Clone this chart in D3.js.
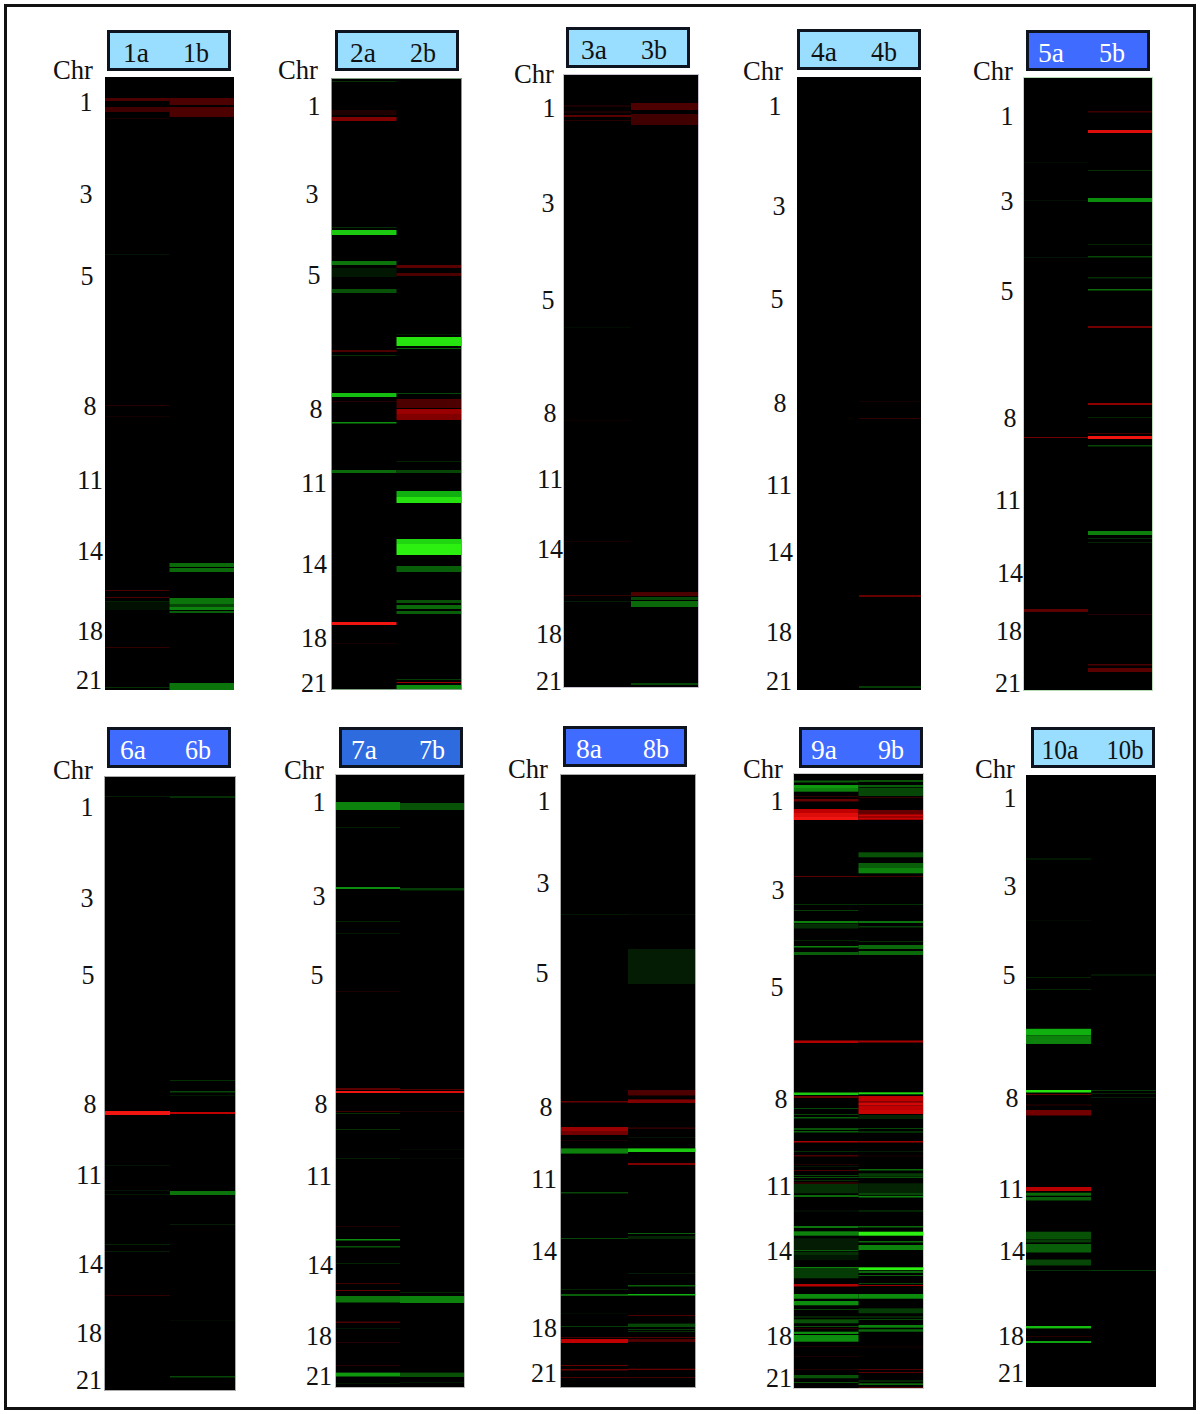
<!DOCTYPE html>
<html><head><meta charset="utf-8">
<script src="https://cdnjs.cloudflare.com/ajax/libs/d3/7.8.5/d3.min.js"></script>
<style>html,body{margin:0;padding:0;background:#fff}svg{display:block}text{font-family:"Liberation Serif",serif}</style>
</head><body><svg id="c" width="1200" height="1414"><defs><filter id="soft" x="-2%" y="-2%" width="104%" height="104%" color-interpolation-filters="sRGB"><feGaussianBlur stdDeviation="0.3 0.45"/></filter></defs></svg>
<script>
// Every band: [start, end, log-ratio]; position in track units from chromosome 1 end; + red (gain), - green (loss)
const p1a=[[21,24,.3],[30,35,.25],[41,42,.1],[177,178,-.08],[328,329,.15],[339,340,.08],[513,514,.3],[520,521,.3],[524,525,-.15],[525,533,-.07],[570,571,.2],[610,611,-.2]];
const p1b=[[21,28,.3],[30,40,.3],[486,490,-.45],[491,495,-.45],[521,527,-.5],[527,530,-.3],[530,533,-.55],[534,536,-.4],[606,613,-.5]];
const p2a=[[2,3,-.2],[31,36,.12],[38,42,.5],[148,149,-.2],[151,156,-.85],[182,186,-.5],[189,198,-.1],[210,214,-.35],[271,273,.3],[276,277,-.2],[314,318,-.8],[322,323,.15],[343,344.5,-.6],[391,394,-.45],[543,546,1],[564,565,.08]];
const p2b=[[186,189,.35],[194,197,.3],[255,256,-.1],[258,267,-.95],[269,270,-.4],[314,315,-.3],[320,329,.3],[330,335,.6],[335,341,.5],[382,383,-.15],[391,394,-.3],[412,418,-.75],[418,424,-.95],[460,465,-.9],[465,476,-1],[487,493,-.4],[521,524,-.35],[526,530,-.45],[532,535,-.4],[600,601,-.25],[603,604,.6],[606,610,-.6]];
const p3a=[[30,32,.1],[36,38,.1],[40,42,.35],[45,46,.15],[252,253,-.05],[345,346,.05],[466,467,.08],[520,521,.2],[526,527,-.12]];
const p3b=[[28,35,.3],[39,44,.25],[44,50,.25],[517,521,.3],[522,525,-.3],[526,532,-.45],[608,610,-.3]];
const p4a=[];
const p4b=[[324,325,.08],[341,342,.2],[518,520,.4],[609,611,-.25]];
const p5a=[[84,85,-.05],[122,123,-.06],[179,180,-.08],[359,360,.45],[531,534,.35]];
const p5b=[[33,34.5,.25],[52,55,.9],[92,93,-.2],[120,124,-.6],[166,167,-.15],[178,179.5,-.3],[199,200.5,-.2],[211,212.5,-.45],[248,250,.45],[325,327,.55],[339,340,-.15],[355,356,.25],[358,361,1],[367,368.5,-.3],[453,457,-.55],[460,461,-.2],[464,465,-.15],[536,537,.15],[586,587.5,.3],[590,594,.35]];
const p6a=[[19,20,-.12],[334,338,1],[388,389,-.08],[413,414,-.08],[417,418,-.1],[467,468,-.15],[474,475,-.12],[518,519,.18]];
const p6b=[[19,21,-.2],[303,304,-.2],[314,315.5,-.3],[318,319,-.1],[335,337,.75],[414,418,-.5],[447,448,-.12],[543,544,-.04],[599,600.5,-.3]];
const p7a=[[27,35,-.55],[52,53,-.12],[112,114,-.6],[146,147,-.15],[158,159,-.1],[216,217,.1],[313,315,.35],[316,318,1],[336,337,.25],[338,339,-.2],[354,355,-.2],[383,384,-.12],[451,452,.12],[464,465.5,-.6],[471,472.5,-.35],[488,489,-.15],[508,509,.25],[515,516,.4],[521,527.5,-.5],[546.5,548,.3],[553,554,-.1],[567,568,.15],[590,591,.15],[597.6,601.5,-.65],[608,609,-.1]];
const p7b=[[28,35,-.35],[113,115.5,-.25],[314,315,.3],[316,318,.9],[336,337,.12],[374,375,-.04],[383,384,-.04],[517,518,-.15],[521,528,-.55],[597.6,602,-.35],[607,608,-.1]];
const p8a=[[139,140,-.1],[326,327.5,.4],[352,356,.6],[356,360,.45],[365,366,.1],[373.4,378.6,-.55],[417,418.5,-.3],[463,464,-.3],[514,515,-.15],[519,521,-.4],[538,539,-.05],[551,552,-.25],[562,563,.25],[564,568,.75],[590,591,.4],[594,595.5,.4],[602,603,.3]];
const p8b=[[139,140,-.06],[174,209,-.12],[315,320.5,.3],[324.4,328,.5],[352.6,353.6,.3],[362,363,-.08],[373.4,377,-.85],[388,390,.5],[458,459,-.4],[461,464,-.15],[498,499,-.12],[510,511.5,-.4],[519,520.5,-.75],[540,541,.3],[548.6,552,-.3],[554,555,-.25],[556,557,-.2],[562,563,.3],[564,567,.3],[593.7,595,.4],[602,603,.25]];
const p9a=[[6.5,8.5,-.4],[11,14,-.65],[14,17.7,-.55],[22,23,.2],[25,27.5,.4],[35,39,.75],[39,43,.9],[43,46,1],[102,103,.35],[130,131,-.2],[136,137,-.25],[147,149,-.55],[149.5,154.5,-.2],[166,167,-.15],[172,173.5,-.55],[178,181,-.4],[266.5,269,.7],[318.5,321,-.85],[322,324,.4],[334,335,-.3],[340,341,-.3],[343,344.5,-.4],[354,356,-.35],[357,358.5,-.4],[367,368.5,.65],[377,378,-.2],[381,382.5,.3],[390,391,.12],[392,393,-.1],[396,397,.3],[401,402,-.3],[403,404,-.35],[406,407,-.2],[408.5,409.5,.35],[410,419.3,-.2],[421,423,-.45],[436.5,437.5,-.1],[452,454,-.5],[457.3,461.7,-.55],[464.3,476,-.12],[476,477,-.4],[477.7,481,-.2],[481,486,-.1],[493,494.5,-.55],[494.5,504.3,-.25],[510,512.5,.7],[520,524.7,-.6],[527,531.3,-.6],[535,536,-.3],[542.5,543.5,-.3],[545.3,549.3,-.35],[552,553,-.35],[554,555,.15],[557.7,560,-.6],[561,567.7,-.6],[572,573,.1],[582,583,.1],[595,596,.12],[601,604.3,-.35],[608,609,-.35]];
const p9b=[[6,8,-.35],[11,13,-.4],[13.7,22,-.3],[23,24,.2],[36,40,.4],[40,46,.6],[41,42,.8],[44,45,.8],[78.3,83.3,-.35],[89,94,-.4],[94,99.3,-.55],[102,103,.25],[130,131,-.2],[147,149,-.5],[152,153.5,-.25],[167,168,-.2],[171,175,-.45],[177,181,-.45],[266.5,268.5,.65],[318.3,320.3,-.9],[322,327.7,.75],[328.3,331.7,.85],[332,336,.75],[336,340,.8],[341,345,-.15],[354,355,-.3],[357.5,358.5,-.4],[367,368.5,.6],[377,378,-.12],[381.5,382.5,.1],[395,396.5,-.45],[399.3,402.7,-.25],[403,404,-.35],[409.3,418.7,-.15],[418.7,421.3,-.3],[422,423.5,-.55],[436.5,437.5,-.3],[452,453.5,-.45],[457.7,461.7,-1],[467,468.5,-.45],[471,476,-.55],[493.3,496,-1],[496.7,499,-.45],[501,502,-.4],[509,510,-.3],[511,512,.6],[520,524.7,-.6],[534.3,539.3,-.25],[542.5,543.5,-.3],[545,546,-.3],[551,553.7,-.55],[555.3,557.7,-.45],[572.5,573.5,.08],[595,596,.3],[598,599,.35],[606.5,607.5,-.3],[609.3,611,-.45],[613,614,.3]];
const p10a=[[83.5,84.5,-.2],[145,146,-.04],[202,203,-.15],[214,215,-.15],[253.8,260.3,-.75],[260.3,269,-.55],[315,317.5,-.95],[319,320,.4],[329.5,330.5,.2],[335,340.5,.45],[412,416,.72],[417.7,420.7,-.45],[422,425.5,-.4],[456.7,464.5,-.35],[465,467.5,-.25],[469,477.5,-.4],[484.5,490.5,-.3],[495,496,-.2],[551,553.4,-.8],[561,562,.15],[566,568,-.7]];
const p10b=[[199.5,200.5,-.2],[315,316,-.25],[318,319,-.15],[322,323,-.12],[495,496,-.25]];
const tracksA=[p1a,p2a,p3a,p4a,p5a,p6a,p7a,p8a,p9a,p10a];
const tracksB=[p1b,p2b,p3b,p4b,p5b,p6b,p7b,p8b,p9b,p10b];
const samples=["1","2","3","4","5","6","7","8","9","10"];
const chrTicks=["1","3","5","8","11","14","18","21"];
const chrTitle="Chr";

// Layout
const trackLeft=[105,332,564,797,1024,105,336,561,794,1026];
const trackRight=[234,461,698,921,1152,235,464,695,923,1156];
const trackTop=[77,79,75,77,78,777,775,775,774,775];
const trackBottom=[690,689,687,690,690,1390,1387,1387,1388,1387];
const trackEdge=["none","#7f9f80","#c8c0d0","none","#b8dcb8","#aaa","#bbb","#aaa","#ccc","none"];
const headLeft=[107,335,566,797,1026,107,339,563,799,1031];
const headTop=[30,30,27,29,30,727,727,726,727,727];
const headFill=["#99ddff","#99ddff","#99ddff","#99ddff","#3f6bff","#3f6bff","#2e6bde","#3f6bff","#3f6bff","#99ddff"];
const headInk=["#111","#111","#111","#111","#fff","#fff","#fff","#fff","#fff","#111"];
const headLabelA=[136,363,594,824,1051,133,364,589,824,1060];
const headLabelB=[196,423,654,884,1112,198,432,656,891,1125];
const chrLabelLeft=[53,278,514,743,973,53,284,508,743,975];
const chrLabelY=[70,70,74,71,71,770,770,769,769,769];
const tickX=[[86,86,87,90,90,90,90,89],[314,312,314,316,314,314,314,314],[549,548,548,550,550,550,549,549],[775,779,777,780,779,780,779,779],[1007,1007,1007,1010,1008,1010,1009,1008],[87,87,88,90,89,90,89,89],[319,319,317,321,319,320,319,319],[544,543,542,546,544,544,544,544],[777,778,777,781,779,779,779,779],[1010,1010,1009,1012,1011,1012,1011,1011]];
const tickY=[[102,194,276,406,480,551,631,680],[106,194,275,409,483,564,638,683],[108,203,300,413,479,549,634,681],[106,206,299,403,485,552,632,681],[116,201,291,418,500,573,631,683],[807,898,975,1104,1175,1264,1333,1380],[802,896,975,1104,1176,1265,1336,1376],[801,883,973,1107,1179,1251,1328,1373],[801,890,987,1099,1186,1251,1336,1378],[798,886,975,1098,1189,1251,1336,1373]];

const svg=d3.select("#c");
svg.append("rect").attr("x",5.5).attr("y",5.5).attr("width",1189).attr("height",1403)
  .attr("fill","#fff").attr("stroke","#111").attr("stroke-width",3);

const colour=d3.scaleLinear().domain([-1,-.75,0,.75,1]).range(["#2bf010","#10b010","#000","#c00000","#f01510"]).clamp(true);

samples.forEach((s,i)=>{
  const g=svg.append("g").attr("class","panel-"+s);
  const x=d3.scaleBand().domain(["a","b"]).range([trackLeft[i],trackRight[i]]);
  const y=d3.scaleLinear().domain([0,trackBottom[i]-trackTop[i]]).range([trackTop[i],trackBottom[i]]);
  g.append("rect").attr("x",trackLeft[i]).attr("y",trackTop[i])
    .attr("width",trackRight[i]-trackLeft[i]).attr("height",trackBottom[i]-trackTop[i]).attr("fill","#000");
  const clipId="clip"+s;
  svg.select("defs").append("clipPath").attr("id",clipId).append("rect")
    .attr("x",trackLeft[i]).attr("y",trackTop[i]).attr("width",trackRight[i]-trackLeft[i]).attr("height",trackBottom[i]-trackTop[i]);
  const clipped=g.append("g").attr("clip-path","url(#"+clipId+")");
  [["a",tracksA[i]],["b",tracksB[i]]].forEach(([col,bands])=>{
    clipped.append("g").attr("filter","url(#soft)").selectAll("rect").data(bands).join("rect")
      .attr("x",x(col)).attr("width",x.bandwidth())
      .attr("y",d=>y(d[0])).attr("height",d=>y(d[1])-y(d[0]))
      .attr("fill",d=>colour(d[2]));
  });
  if(trackEdge[i]!=="none"){
    g.append("rect").attr("x",trackLeft[i]-.5).attr("y",trackTop[i]-.5)
      .attr("width",trackRight[i]-trackLeft[i]+1).attr("height",trackBottom[i]-trackTop[i]+1)
      .attr("fill","none").attr("stroke",trackEdge[i]).attr("stroke-width",1);
  }
  g.append("rect").attr("x",headLeft[i]+1.5).attr("y",headTop[i]+1.5).attr("width",121).attr("height",38)
    .attr("fill",headFill[i]).attr("stroke","#0d1420").attr("stroke-width",3);
  [[s+"a",headLabelA[i]],[s+"b",headLabelB[i]]].forEach(([t,px])=>{
    g.append("text").attr("x",px).attr("y",headTop[i]+32).attr("text-anchor","middle")
      .attr("font-size",28).attr("textLength",s==="10"?37:26).attr("lengthAdjust","spacingAndGlyphs")
      .attr("fill",headInk[i]).text(t);
  });
  g.append("text").attr("x",chrLabelLeft[i]).attr("y",chrLabelY[i]+9).attr("font-size",28)
    .attr("textLength",40).attr("lengthAdjust","spacingAndGlyphs").attr("fill","#111").text(chrTitle);
  g.append("g").selectAll("text").data(chrTicks).join("text")
    .attr("x",(d,k)=>tickX[i][k]).attr("y",(d,k)=>tickY[i][k]+8.5)
    .attr("text-anchor","middle").attr("font-size",28)
    .attr("textLength",d=>d.length>1?26:13).attr("lengthAdjust","spacingAndGlyphs")
    .attr("fill","#111").text(d=>d);
});
</script></body></html>
